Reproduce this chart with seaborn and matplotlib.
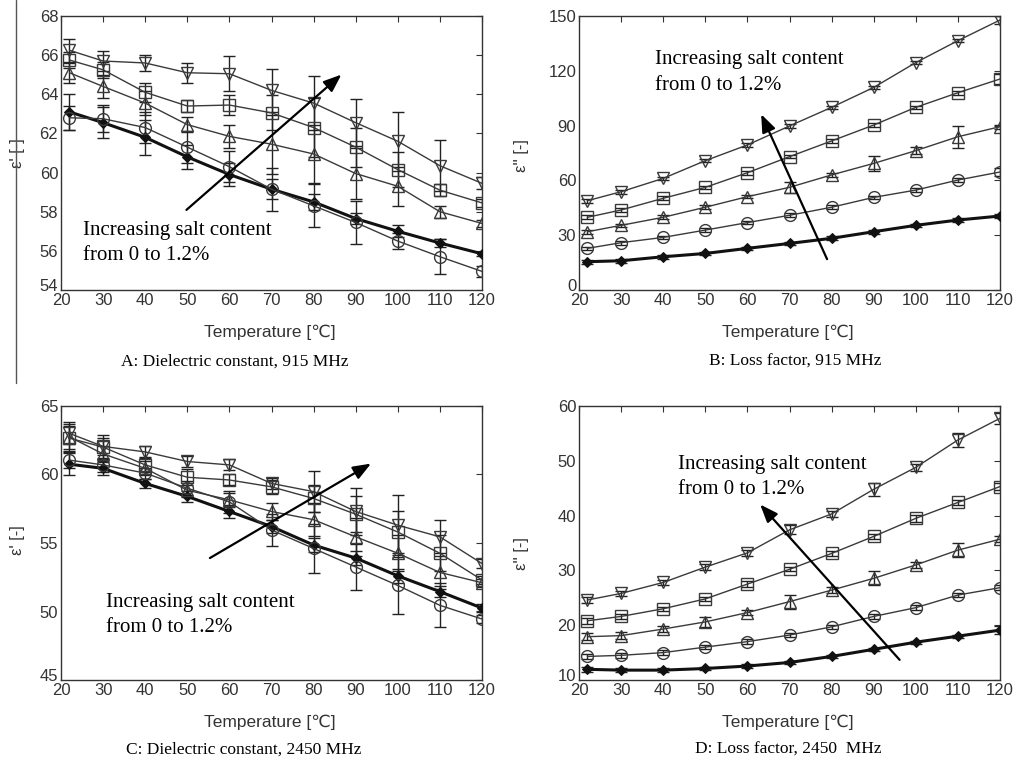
import numpy as np
import pandas as pd
import matplotlib
matplotlib.use("Agg")
import matplotlib.pyplot as plt
import matplotlib.transforms as mtransforms
import seaborn as sns
from matplotlib.lines import Line2D

# ---------------- data ----------------
temps = [22, 30, 40, 50, 60, 70, 80, 90, 100, 110, 120]
series = ["0%", "s1", "s2", "s3", "1.2%"]  # increasing salt content

# Panel A: dielectric constant, 915 MHz
a_0 = [63.1, 62.55, 61.8, 60.8, 59.9, 59.15, 58.5, 57.65, 57.0, 56.4, 55.85]
a_1 = [62.8, 62.75, 62.3, 61.3, 60.3, 59.15, 58.3, 57.45, 56.5, 55.7, 54.95]
a_2 = [65.1, 64.4, 63.55, 62.45, 61.85, 61.45, 60.95, 59.95, 59.3, 58.0, 57.4]
a_3 = [65.75, 65.25, 64.1, 63.4, 63.45, 63.05, 62.3, 61.3, 60.15, 59.1, 58.45]
a_4 = [66.25, 65.7, 65.6, 65.1, 65.05, 64.2, 63.55, 62.55, 61.6, 60.35, 59.45]
a_e0 = [0.9, 0.8, 0.9, 0.6, 0.6, 0.5, 0.4, 0.3, 0.3, 0.2, 0.1]
a_e1 = [0.6, 0.7, 0.8, 0.8, 0.8, 1.1, 1.1, 1.1, 0.4, 0.9, 0.3]
a_e2 = [0.5, 0.6, 0.6, 0.4, 0.6, 1.5, 1.5, 1.3, 1.0, 0.3, 0.2]
a_e3 = [0.4, 0.4, 0.5, 0.3, 0.5, 0.9, 1.5, 1.0, 0.9, 0.3, 0.2]
a_e4 = [0.6, 0.5, 0.4, 0.5, 0.9, 1.1, 1.4, 1.2, 1.5, 1.3, 0.3]

# Panel B: loss factor, 915 MHz
b_0 = [15.5, 16.0, 18.2, 20.0, 22.8, 25.5, 28.3, 31.9, 35.4, 38.3, 40.5]
b_1 = [22.8, 25.9, 28.8, 32.8, 36.9, 40.9, 45.3, 50.7, 54.7, 60.2, 64.6]
b_2 = [31.9, 35.4, 39.8, 45.3, 51.1, 56.2, 63.0, 69.3, 76.3, 83.9, 89.4]
b_3 = [39.8, 43.8, 50.2, 56.2, 64.2, 73.0, 81.6, 90.3, 100.0, 108.0, 115.5]
b_4 = [48.9, 53.8, 61.1, 70.8, 79.4, 89.8, 100.0, 110.9, 124.5, 136.5, 147.8]
b_e0 = [1.0, 1.0, 1.0, 1.0, 1.0, 1.0, 1.0, 1.0, 1.0, 1.0, 1.0]
b_e1 = [1.0, 1.0, 1.0, 1.0, 1.0, 1.0, 1.0, 1.0, 1.0, 1.0, 2.0]
b_e2 = [1.0, 1.0, 1.0, 1.0, 1.0, 3.0, 1.0, 4.0, 2.0, 6.0, 1.0]
b_e3 = [1.0, 1.0, 1.0, 1.0, 1.0, 1.0, 1.0, 1.0, 1.0, 1.0, 3.0]
b_e4 = [1.0, 1.0, 1.0, 1.0, 1.0, 1.0, 1.0, 1.0, 1.0, 1.0, 2.0]

# Panel C: dielectric constant, 2450 MHz
c_0 = [60.75, 60.45, 59.35, 58.4, 57.3, 56.2, 54.85, 53.9, 52.6, 51.45, 50.25]
c_1 = [61.05, 60.7, 60.1, 59.0, 58.0, 55.95, 54.6, 53.25, 51.9, 50.45, 49.45]
c_2 = [62.75, 61.5, 60.45, 58.85, 58.15, 57.3, 56.7, 55.45, 54.25, 52.85, 52.1]
c_3 = [62.65, 62.0, 60.7, 59.8, 59.6, 59.1, 58.25, 57.1, 55.8, 54.25, 52.3]
c_4 = [63.0, 62.05, 61.65, 60.95, 60.7, 59.35, 58.75, 57.3, 56.3, 55.45, 53.5]
c_e0 = [0.8, 0.5, 0.3, 0.4, 0.5, 0.5, 0.5, 0.5, 0.5, 0.4, 0.3]
c_e1 = [0.6, 0.5, 0.4, 0.5, 0.8, 1.2, 1.8, 1.7, 2.1, 1.6, 0.3]
c_e2 = [0.9, 0.6, 0.5, 0.5, 0.5, 0.6, 1.2, 1.4, 1.3, 1.2, 0.3]
c_e3 = [0.9, 0.9, 0.5, 0.6, 0.4, 0.5, 1.0, 1.3, 1.5, 1.3, 0.3]
c_e4 = [0.8, 0.6, 0.4, 0.4, 0.4, 0.4, 1.5, 1.7, 2.2, 1.2, 0.3]

# Panel D: loss factor, 2450 MHz
d_0 = [11.95, 11.8, 11.8, 12.1, 12.55, 13.2, 14.3, 15.6, 16.9, 18.0, 19.1]
d_1 = [14.3, 14.5, 15.0, 16.0, 17.0, 18.2, 19.7, 21.6, 23.2, 25.5, 26.85]
d_2 = [17.9, 18.1, 19.3, 20.6, 22.3, 24.3, 26.4, 28.55, 31.0, 33.7, 35.7]
d_3 = [20.8, 21.6, 23.0, 24.8, 27.5, 30.2, 33.1, 36.2, 39.5, 42.4, 45.3]
d_4 = [24.6, 25.8, 27.8, 30.6, 33.2, 37.4, 40.3, 44.8, 48.8, 53.8, 57.75]
d_e0 = [0.4, 0.3, 0.3, 0.3, 0.3, 0.3, 0.3, 0.3, 0.3, 0.3, 0.7]
d_e1 = [0.4, 0.4, 0.4, 0.4, 0.4, 0.4, 0.4, 0.4, 0.4, 0.4, 0.5]
d_e2 = [0.6, 0.6, 0.5, 0.9, 0.5, 1.3, 0.6, 1.3, 0.5, 1.3, 0.5]
d_e3 = [0.5, 0.5, 0.4, 0.4, 0.5, 0.4, 0.4, 0.4, 0.6, 0.4, 0.6]
d_e4 = [0.6, 0.5, 0.5, 0.5, 0.5, 0.8, 0.5, 1.2, 0.6, 1.2, 1.0]

x_ticks = [20, 30, 40, 50, 60, 70, 80, 90, 100, 110, 120]
a_ticks = [54, 56, 58, 60, 62, 64, 66, 68]
b_ticks = [0, 30, 60, 90, 120, 150]
c_ticks = [45, 50, 55, 60, 65]
d_ticks = [10, 20, 30, 40, 50, 60]

annot_text = "Increasing salt content\nfrom 0 to 1.2%"
captions = ["A: Dielectric constant, 915 MHz", "B: Loss factor, 915 MHz",
            "C: Dielectric constant, 2450 MHz", "D: Loss factor, 2450  MHz"]
xlabel = "Temperature [\u2103]"
ylabels = ["\u03b5' [-]", "\u03b5'' [-]", "\u03b5' [-]", "\u03b5'' [-]"]

# ---------------- style ----------------
sns.set_theme(style="white")
plt.rcParams["font.family"] = ["Liberation Sans", "DejaVu Sans"]
plt.rcParams["axes.unicode_minus"] = False

fig = plt.figure(figsize=(10.17, 7.67), dpi=100)
W, H = 1017, 767
boxes = [(61, 16), (579, 16), (61, 406), (579, 406)]
aw, ah = 421, 274

panels = [
    ([a_0, a_1, a_2, a_3, a_4], [a_e0, a_e1, a_e2, a_e3, a_e4], (54, 68), a_ticks,
     ((49.3, 58.0), (87.1, 65.1)), (25.2, 56.4)),
    ([b_0, b_1, b_2, b_3, b_4], [b_e0, b_e1, b_e2, b_e3, b_e4], (0, 150), b_ticks,
     ((79.2, 15.5), (63.0, 97.6)), (38.0, 119.0)),
    ([c_0, c_1, c_2, c_3, c_4], [c_e0, c_e1, c_e2, c_e3, c_e4], (45, 65), c_ticks,
     ((54.8, 53.8), (94.2, 60.9)), (30.7, 49.75)),
    ([d_0, d_1, d_2, d_3, d_4], [d_e0, d_e1, d_e2, d_e3, d_e4], (10, 60), d_ticks,
     ((96.6, 13.3), (62.6, 42.4)), (43.4, 47.0)),
]
ylab_x = [-0.085, -0.118, -0.085, -0.118]
ylab_y = [0.50, 0.49, 0.51, 0.46]

markers = ["D", "o", "^", "s", "v"]
line_col = "#3a3a3a"
edge_col = "#3a3a3a"

for i, (ys, errs, ylim, yt, arrow, txt) in enumerate(panels):
    x0, y0 = boxes[i]
    ax = fig.add_axes([x0 / W, 1 - (y0 + ah) / H, aw / W, ah / H])
    for k in range(5):
        df = pd.DataFrame({"T": temps, "v": ys[k]})
        ax.errorbar(temps, ys[k], yerr=errs[k], fmt="none", ecolor="#222222",
                    elinewidth=1.0, capsize=4, capthick=1.0, zorder=2)
        if k == 0:
            sns.lineplot(data=df, x="T", y="v", ax=ax, color="#111111", lw=2.2,
                         marker="D", markersize=5, markerfacecolor="#111111",
                         markeredgecolor="#111111", zorder=3)
        else:
            sns.lineplot(data=df, x="T", y="v", ax=ax, color=line_col, lw=1.0,
                         marker=markers[k], markersize=8.5, markerfacecolor="none",
                         markeredgecolor=edge_col, markeredgewidth=1.0, zorder=3)
    ax.set_xlim(20, 120)
    ax.set_ylim(*ylim)
    ax.set_xticks(x_ticks)
    ax.set_yticks(yt)
    ax.tick_params(direction="in", top=True, right=True, length=4, width=0.8,
                   labelsize=12, colors="#333333", pad=2)
    # lift the lowest y tick label slightly, as in the original layout
    lab = ax.get_yticklabels()[0]
    lab.set_transform(lab.get_transform() +
                      mtransforms.ScaledTranslation(0, 5 / 100, fig.dpi_scale_trans))
    for sp in ax.spines.values():
        sp.set_color("#333333")
        sp.set_linewidth(1.0)
    ax.set_xlabel(xlabel, fontsize=12.5, color="#333333",
                  family=["Liberation Sans", "DejaVu Sans"])
    ax.xaxis.set_label_coords(0.496, -0.128)
    ax.set_ylabel(ylabels[i], fontsize=12, color="#333333")
    ax.yaxis.set_label_coords(ylab_x[i], ylab_y[i])
    (tx, ty), (hx, hy) = arrow
    ax.annotate("", xy=(hx, hy), xytext=(tx, ty),
                arrowprops=dict(arrowstyle="-|>,head_length=0.9,head_width=0.35",
                                color="black", lw=1.6), zorder=5)
    ax.text(txt[0], txt[1], annot_text, fontsize=15, family="Liberation Serif",
            color="black", va="center", ha="left", linespacing=1.45, zorder=6)

# captions
cap_pos = [(235, 362), (795, 362), (244, 750), (788, 750)]
for (cx, cy), cap in zip(cap_pos, captions):
    fig.text(cx / W, 1 - cy / H, cap, fontsize=12.5, family="Liberation Serif",
             ha="center", va="center", color="black")

# left border line of the original layout
fig.add_artist(Line2D([16 / W, 16 / W], [1 - 0 / H, 1 - 383 / H], color="#555555", lw=1.0))

fig.savefig("out.png", dpi=100)
